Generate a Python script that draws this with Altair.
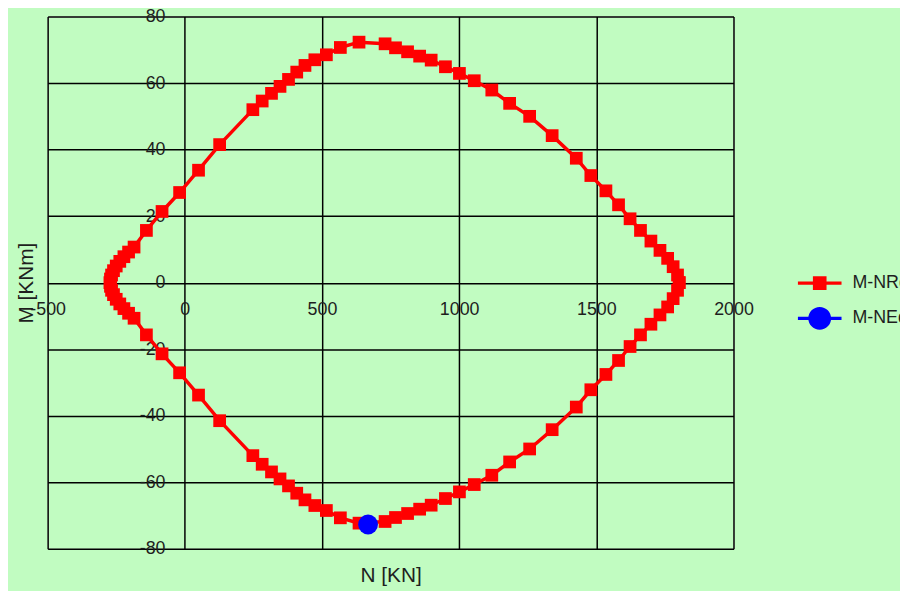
import altair as alt
import pandas as pd

# ---- data ----
# M-NRd interaction curve, upper half (from right tip to left tip)
N_top = [1802, 1796, 1780, 1760, 1732, 1699, 1661, 1623, 1581, 1535, 1480, 1427,
         1339, 1257, 1184, 1119, 1055, 1001, 950, 898, 856, 812, 768, 730,
         635, 567, 516, 474, 438, 408, 378, 347, 316, 282, 248, 127, 50, -19,
         -83, -140, -185, -205, -222, -237, -250, -260, -267, -271, -273]
M_top = [0.0, 2.3, 4.8, 7.3, 9.7, 12.5, 15.7, 19.2, 23.4, 27.6, 32.2, 37.4,
         44.2, 50.0, 53.9, 57.9, 60.7, 62.9, 64.9, 66.9, 68.1, 69.4, 70.6, 71.8,
         72.3, 70.7, 68.5, 67.0, 65.3, 63.3, 61.1, 59.0, 56.9, 54.6, 52.0, 41.5, 33.8, 27.1,
         21.4, 15.7, 10.7, 9.2, 7.8, 6.4, 5.0, 3.6, 2.3, 1.1, 0.0]
# lower half (from left tip back to right tip)
N_bot = [-271, -267, -260, -250, -237, -222, -205, -185, -140, -83, -19, 50, 127,
         248, 282, 316, 347, 378, 408, 438, 474, 516, 567, 635,
         730, 768, 812, 856, 898, 950, 1001, 1055, 1119, 1184, 1257, 1339,
         1427, 1480, 1535, 1581, 1623, 1661, 1699, 1732, 1760, 1780, 1796, 1802]
M_bot = [-1.1, -2.3, -3.6, -5.0, -6.4, -7.8, -9.2, -10.7, -15.7, -21.4, -27.1, -33.8, -41.5,
         -52.0, -54.6, -56.9, -59.0, -61.1, -63.3, -65.3, -67.0, -68.5, -70.7, -72.3,
         -71.8, -70.6, -69.4, -68.1, -66.9, -64.9, -62.9, -60.7, -57.9, -53.9, -50.0, -44.2,
         -37.4, -32.2, -27.6, -23.4, -19.2, -15.7, -12.5, -9.7, -7.3, -4.8, -2.3, 0.0]
# design point M-NEd
NEd_N = [668]
NEd_M = [-72.7]

series_names = ["M-NRd", "M-NEd"]
series_colors = ["#ff0000", "#0000ff"]
x_ticks = [-500, 0, 500, 1000, 1500, 2000]
y_ticks = [-80, -60, -40, -20, 0, 20, 40, 60, 80]

# ---- tables ----
n_all = N_top + N_bot
m_all = M_top + M_bot
curve = pd.DataFrame({"N": n_all, "M": m_all, "order": list(range(len(n_all)))})
ed = pd.DataFrame({"N": NEd_N, "M": NEd_M})
leg = pd.DataFrame({"N": [N_top[0], NEd_N[0]], "M": [M_top[0], NEd_M[0]], "series": series_names})

FONT = "Liberation Sans"
TXT = "#1e1e1e"
W, H = 692, 537
LABEL_EXPR = "'' + datum.value"

path_sq = "M-1.6,-0.12H-0.5V-0.5H0.5V-0.12H1.6V0.12H0.5V0.5H-0.5V0.12H-1.6Z"
path_ci = ("M-1.6,-0.12H-0.7V0.12H-1.6Z M0.7,-0.12H1.6V0.12H0.7Z "
           "M0.84,0A0.84,0.84 0 1,1 -0.84,0A0.84,0.84 0 1,1 0.84,0Z")

x_enc = alt.X(
    "N:Q",
    scale=alt.Scale(domain=[-500, 2000], nice=False, zero=False),
    axis=alt.Axis(
        values=x_ticks, labelExpr=LABEL_EXPR,
        grid=True, gridColor="black", gridWidth=1.5, gridOpacity=1,
        domain=False, ticks=False, offset=-268.5, labelPadding=18,
        labelFontSize=18, labelFont=FONT, labelColor=TXT,
        labelFlush=False, labelOverlap=False, labelBound=False,
        title="N [KN]", titleFont=FONT, titleFontSize=21, titleFontWeight="normal",
        titleColor=TXT, titleX=W / 2, titleY=295.5, titleBaseline="middle", titleAlign="center",
    ),
)
y_enc = alt.Y(
    "M:Q",
    scale=alt.Scale(domain=[-80, 80], nice=False, zero=False),
    axis=alt.Axis(
        values=y_ticks, labelExpr=LABEL_EXPR,
        grid=True, gridColor="black", gridWidth=1.5, gridOpacity=1,
        domain=False, ticks=False, offset=-138.4, labelPadding=20,
        labelFontSize=18, labelFont=FONT, labelColor=TXT,
        labelFlush=False, labelOverlap=False, labelBound=False,
        title="M [KNm]", titleFont=FONT, titleFontSize=21, titleFontWeight="normal",
        titleColor=TXT, titleAngle=270, titleX=-159.4, titleY=H / 2,
        titleBaseline="middle", titleAlign="center",
    ),
)

legend_def = alt.Legend(title=None, orient="none", legendX=765, legendY=255,
                        symbolSize=756, symbolOpacity=1, symbolStrokeWidth=0,
                        labelFontSize=18, labelFont=FONT, labelColor=TXT,
                        labelOffset=19, rowPadding=12.5, padding=0)

legend_layer = alt.Chart(leg).mark_point(filled=True, opacity=0, size=756).encode(
    x=x_enc, y=y_enc,
    color=alt.Color("series:N", scale=alt.Scale(domain=series_names, range=series_colors),
                    legend=legend_def),
    shape=alt.Shape("series:N", scale=alt.Scale(domain=series_names, range=[path_sq, path_ci]),
                    legend=legend_def),
)

line = alt.Chart(curve).mark_line(color="#ff0000", strokeWidth=3.5).encode(
    x=x_enc, y=y_enc, order="order:Q"
)
pts = alt.Chart(curve).mark_point(shape="square", filled=True, color="#ff0000",
                                   size=165, opacity=1).encode(x=x_enc, y=y_enc)
edp = alt.Chart(ed).mark_point(shape="circle", filled=True, color="#0000ff",
                                size=400, opacity=1).encode(x=x_enc, y=y_enc)

chart = alt.layer(legend_layer, line, pts, edp).properties(
    width=W, height=H,
    autosize=alt.AutoSizeParams(type="none"),
    padding={"left": 40, "top": 6, "right": 168, "bottom": 40},
    background="#c1fcc1",
).configure_view(stroke="black", strokeWidth=2).configure(font=FONT)

chart.save("out.html", embed_options={"renderer": "svg", "actions": False})
